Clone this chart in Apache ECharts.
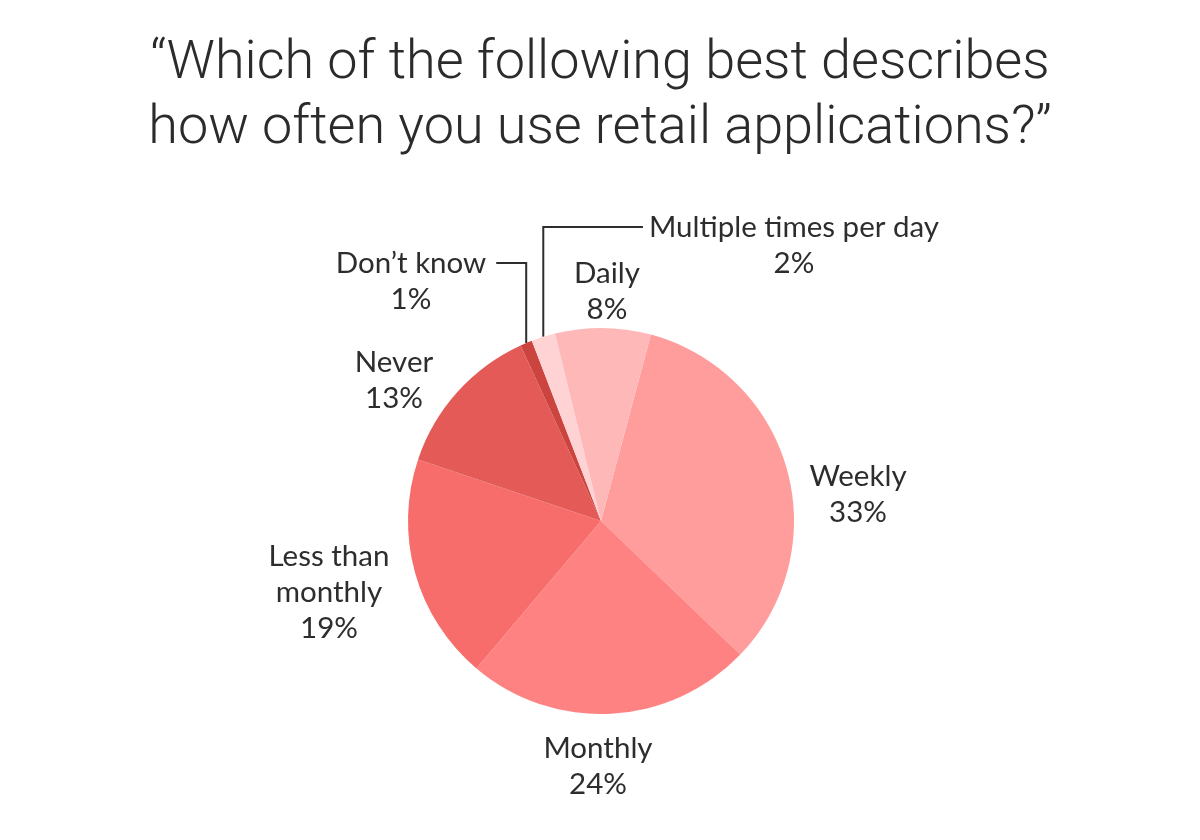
<!DOCTYPE html>
<html>
<head>
<meta charset="utf-8">
<script src="https://cdn.jsdelivr.net/npm/echarts@6/dist/echarts.min.js"></script>
<style>html,body{margin:0;padding:0;background:#fff}#c{width:1200px;height:840px}</style>
</head>
<body>
<div id="c"></div>
<script>
const categories = ["Weekly", "Monthly", "Less than\nmonthly", "Never", "Don\u2019t know", "Multiple times per day", "Daily"];
const values = [33, 24, 19, 13, 1, 2, 8];
const colors = ["#FF9C9C", "#FF8282", "#F76D6B", "#E35A57", "#CC4440", "#FFD2D3", "#FFB8B8"];
const labelCenters = [[858, 494], [598, 766], [329, 592], [394, 380], [411, 281], [794, 245], [607, 291]];
const leaderSide = [null, null, null, null, "right", "left", null];

const chart = echarts.init(document.getElementById('c'));
chart.setOption({
  animation: false,
  title: {
    text: "\u201cWhich of the following best describes\nhow often you use retail applications?\u201d",
    left: 'center',
    top: 27,
    textStyle: { fontFamily: 'Roboto', fontWeight: 300, fontSize: 54, lineHeight: 65, color: '#2b2b2b' }
  },
  series: [{
    type: 'pie',
    center: [601, 521],
    radius: 193,
    startAngle: 75,
    clockwise: true,
    avoidLabelOverlap: false,
    emphasis: { disabled: true },
    itemStyle: { borderWidth: 0 },
    label: {
      show: true,
      position: 'outside',
      fontFamily: 'Lato',
      fontSize: 29.5,
      lineHeight: 36,
      color: '#2d2d2d',
      align: 'center',
      formatter: p => p.name + '\n' + p.value + '%'
    },
    labelLine: { show: true, lineStyle: { color: '#2d2d2d', width: 2 } },
    labelLayout: function (params) {
      const i = params.dataIndex;
      const c = labelCenters[i];
      const res = { x: c[0], y: c[1], align: 'center', verticalAlign: 'middle' };
      const side = leaderSide[i];
      if (side && params.labelLinePoints) {
        const p0 = params.labelLinePoints[0];
        const ly = c[1] - 18;
        const w = params.labelRect.width;
        const ex = side === 'right' ? c[0] + w / 2 + 10 : c[0] - w / 2 - 6;
        res.labelLinePoints = [[p0[0], p0[1]], [p0[0], ly], [ex, ly]];
      }
      return res;
    },
    data: categories.map((n, i) => ({
      name: n,
      value: values[i],
      itemStyle: { color: colors[i] },
      labelLine: { show: !!leaderSide[i] }
    }))
  }]
});
</script>
</body>
</html>
